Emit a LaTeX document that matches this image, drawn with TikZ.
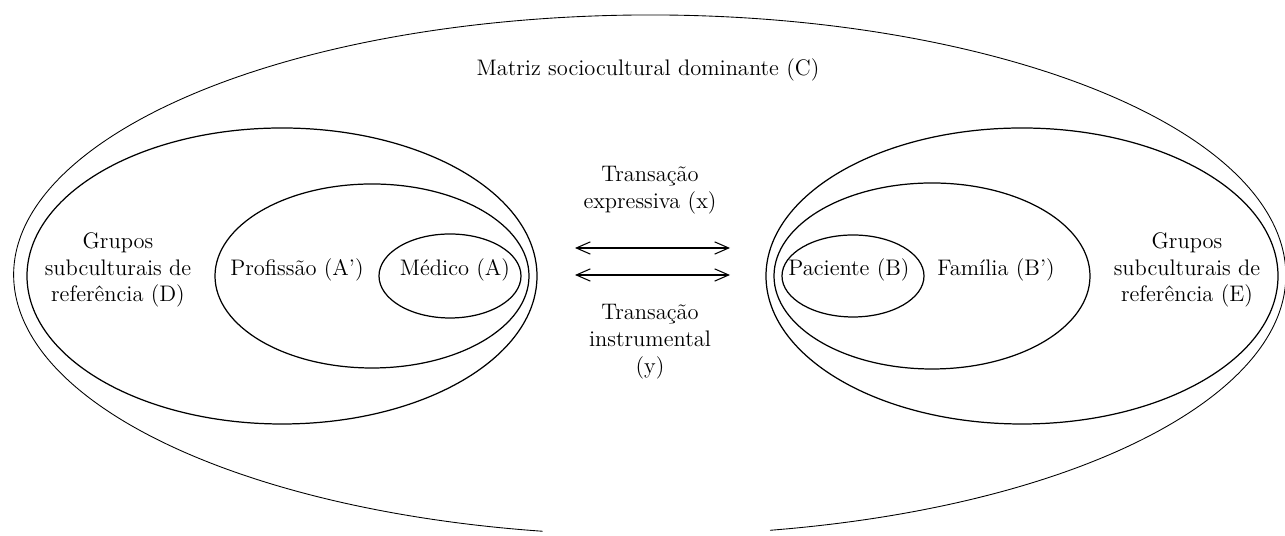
\documentclass[tikz,border=0pt]{standalone}
\usetikzlibrary{arrows.meta}
\begin{document}
\begin{tikzpicture}[x=.02cm,y=.02cm,
  txt/.style={align=center,font=\fontsize{12.8}{15.3}\selectfont},
  ring/.style={line width=.7pt},
  trans/.style={{Straight Barb[length=8pt,width=7pt]}-{Straight Barb[length=8pt,width=7pt]},line width=.6pt}]
\useasboundingbox (0,0) rectangle (1285,536);
\draw[line width=.5pt] (770,5.7) arc[start angle=-79.1,end angle=260.3,x radius=636,y radius=260];
\node[txt] (matriz) at (648,466) {Matriz sociocultural dominante (C)};

% medico
\draw[ring] (282,260) ellipse[x radius=255,y radius=148];
\draw[ring] (372,260) ellipse[x radius=157,y radius=92];
\draw[ring] (450,260) ellipse[x radius=71,y radius=42];
\node[txt] (grupoD) at (118,266) {Grupos\\subculturais de\\referência (D)};
\node[txt] (prof) at (297,266) {Profissão (A')};
\node[txt] (medico) at (455,266) {Médico (A)};

% paciente
\draw[ring] (1022,260) ellipse[x radius=256,y radius=148];
\draw[ring] (932,260) ellipse[x radius=158,y radius=93];
\draw[ring] (853,260) ellipse[x radius=71,y radius=41];
\node[txt] (paciente) at (849,266) {Paciente (B)};
\node[txt] (familia) at (996,266) {Família (B')};
\node[txt] (grupoE) at (1187,266) {Grupos\\subculturais de\\referência (E)};

% transacoes
\coordinate (x1) at (575,288);
\coordinate (x2) at (730,288);
\coordinate (y1) at (575,261);
\coordinate (y2) at (730,261);
\draw[trans] (x1) -- (x2);
\draw[trans] (y1) -- (y2);
\node[txt] (expr) at (650,346) {Transação\\expressiva (x)};
\node[txt] (instr) at (650,194) {Transação\\instrumental\\(y)};

\end{tikzpicture}
\end{document}
